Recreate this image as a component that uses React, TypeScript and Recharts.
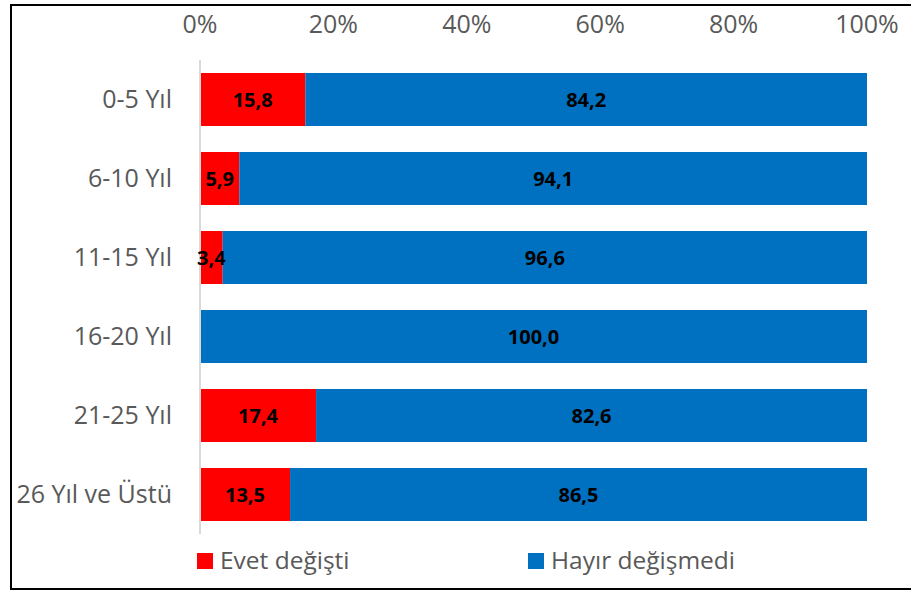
import React from "react";
import { BarChart, Bar, XAxis, YAxis, LabelList } from "recharts";

const categories = ["0-5 Yıl", "6-10 Yıl", "11-15 Yıl", "16-20 Yıl", "21-25 Yıl", "26 Yıl ve Üstü"];
const evet = [15.8, 5.9, 3.4, 0, 17.4, 13.5];
const hayir = [84.2, 94.1, 96.6, 100.0, 82.6, 86.5];
const xTicks = [0, 20, 40, 60, 80, 100];

const series = [
  { key: "evet", name: "Evet değişti", color: "#FF0000" },
  { key: "hayir", name: "Hayır değişmedi", color: "#0070C0" },
];

const data = categories.map((c, i) => ({ name: c, evet: evet[i], hayir: hayir[i] }));

const FONT = "'Open Sans', 'Liberation Sans', sans-serif";

const fmt = (v: any) => (v === 0 || v == null ? "" : Number(v).toFixed(1).replace(".", ","));

const XTick = (props: any) => {
  const { x, payload } = props;
  return (
    <text x={x} y={33} textAnchor="middle" fill="#595959" fontSize={25} fontFamily={FONT}>
      {payload.value}%
    </text>
  );
};

const YTick = (props: any) => {
  const { y, payload } = props;
  return (
    <text x={172} y={y} dy={8} textAnchor="end" fill="#595959" fontSize={25} fontFamily={FONT}>
      {payload.value}
    </text>
  );
};

const LegendBox = () => {
  const pos = [197, 528];
  return (
    <svg width={911} height={593} style={{ position: "absolute", left: 0, top: 0, pointerEvents: "none" }}>
      {series.map((s, i) => (
        <g key={s.key}>
          <rect x={pos[i]} y={553} width={16} height={16} fill={s.color} />
          <text x={pos[i] + 23} y={569} fill="#595959" fontSize={24.5} fontFamily={FONT}>
            {s.name}
          </text>
        </g>
      ))}
    </svg>
  );
};

export default function App() {
  return (
    <div style={{ position: "absolute", left: 0, top: 0, width: 911, height: 593, background: "#fff", overflow: "hidden" }}>
      <div
        style={{
          position: "absolute",
          left: 10,
          top: 4,
          width: 920,
          height: 586,
          border: "2.5px solid #000",
          boxSizing: "border-box",
        }}
      />
      <div style={{ position: "absolute", left: 0, top: 0 }}>
        <BarChart
          layout="vertical"
          width={911}
          height={593}
          data={data}
          margin={{ top: 30, right: 44, bottom: 59, left: 10 }}
          barSize={53}
        >
          <XAxis
            type="number"
            orientation="top"
            domain={[0, 100]}
            ticks={xTicks}
            axisLine={false}
            tickLine={false}
            height={30}
            tick={<XTick />}
            interval={0}
          />
          <YAxis
            type="category"
            dataKey="name"
            width={190}
            axisLine={{ stroke: "#d9d9d9", strokeWidth: 2 }}
            tickLine={false}
            tick={<YTick />}
            interval={0}
          />
          {series.map((s) => (
            <Bar key={s.key} dataKey={s.key} name={s.name} stackId="a" fill={s.color} isAnimationActive={false}>
              <LabelList
                dataKey={s.key}
                position="center"
                formatter={fmt}
                fill="#000"
                fontSize={20}
                fontWeight="bold"
                fontFamily={FONT}
              />
            </Bar>
          ))}
        </BarChart>
      </div>
      <LegendBox />
    </div>
  );
}
